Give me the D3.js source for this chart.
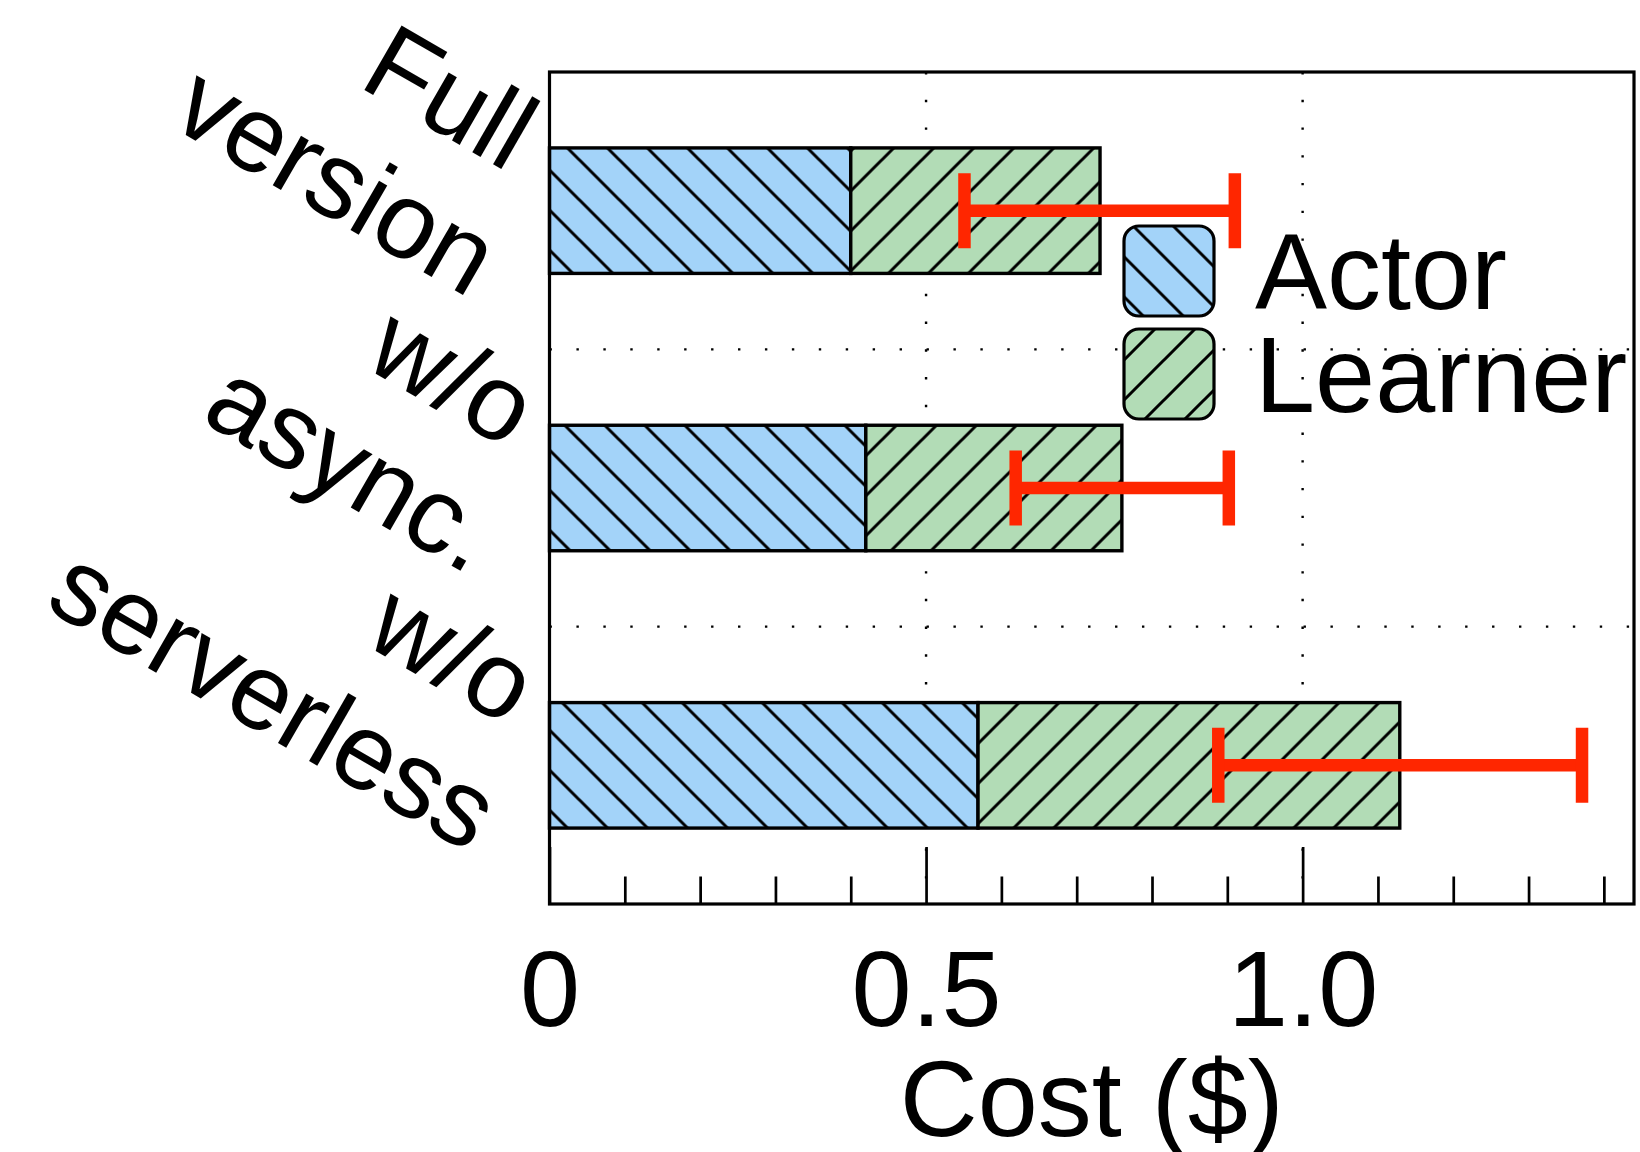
<!DOCTYPE html>
<html>
<head>
<meta charset="utf-8">
<script src="https://cdn.jsdelivr.net/npm/d3@7"></script>
<style>
  body { margin: 0; background: #fff; }
  svg { display: block; }
  text { font-family: "Liberation Sans", Arial, Helvetica, sans-serif; }
</style>
</head>
<body>
<svg id="chart" width="1640" height="1152"></svg>
<script>
// ---- data ----
const categories = [["Full", "version"], ["w/o", "async."], ["w/o", "serverless"]];
const actorCost = [0.400, 0.420, 0.569];
const learnerCost = [0.331, 0.340, 0.560];
const errLow = [0.551, 0.619, 0.888];
const errHigh = [0.910, 0.902, 1.371];
const seriesNames = ["Actor", "Learner"];
const majorTicks = [0, 0.5, 1.0];
const majorTickLabels = ["0", "0.5", "1.0"];
const minorTicks = [0.1, 0.2, 0.3, 0.4, 0.6, 0.7, 0.8, 0.9, 1.1, 1.2, 1.3, 1.4];
const xTitle = "Cost ($)";

// ---- layout ----
const W = 1640, H = 1152;
const plot = { left: 549.5, right: 1634, top: 72, bottom: 904 };
const FONT = 108;
const colors = { actor: "#a3d3f9", learner: "#b2dcb6", err: "#ff2600" };

const svg = d3.select("#chart");
svg.append("rect").attr("width", W).attr("height", H).attr("fill", "#fff");

const keys = categories.map(c => c.join(" "));
const x = d3.scaleLinear().domain([0, 1.44]).range([plot.left, plot.right]);
const y = d3.scaleBand().domain(keys).range([plot.top, plot.bottom])
  .paddingInner(0.5475).paddingOuter(0.5475 / 2);
const bw = y.bandwidth();

// ---- hatch patterns ----
const defs = svg.append("defs");
function hatch(id, fill, dir, shift) {
  const p = defs.append("pattern").attr("id", id)
    .attr("patternUnits", "userSpaceOnUse").attr("width", 40).attr("height", 40)
    .attr("patternTransform", `translate(${shift},0)`);
  p.append("rect").attr("width", 40).attr("height", 40).attr("fill", fill);
  const d = dir === "back"
    ? "M-10,-10L50,50M30,-10L50,10M-10,30L10,50"
    : "M-10,50L50,-10M-10,10L10,-10M30,50L50,30";
  p.append("path").attr("d", d).attr("stroke", "#000").attr("stroke-width", 3).attr("fill", "none");
}
hatch("hatchActor", colors.actor, "back", 19.5);
hatch("hatchLearner", colors.learner, "fwd", 1.7);
hatch("hatchActorKey", colors.actor, "back", 27.3);
hatch("hatchLearnerKey", colors.learner, "fwd", 4);

// ---- dotted grid ----
const grid = svg.append("g").attr("stroke", "#000").attr("stroke-width", 2.4);
grid.selectAll("line.v").data([0.5, 1.0]).join("line")
  .attr("x1", d => x(d)).attr("x2", d => x(d))
  .attr("y1", plot.top).attr("y2", plot.bottom)
  .attr("stroke-dasharray", "2.4 25.33");
grid.selectAll("line.h").data(keys.slice(1)).join("line")
  .attr("x1", plot.left).attr("x2", plot.right)
  .attr("y1", d => y(d) - y.paddingInner() * y.step() / 2)
  .attr("y2", d => y(d) - y.paddingInner() * y.step() / 2)
  .attr("stroke-dasharray", "2.4 24.53");

// ---- stacked bars ----
const bars = svg.append("g").attr("stroke", "#000").attr("stroke-width", 3.4);
bars.selectAll("rect.actor").data(keys).join("rect")
  .attr("x", x(0)).attr("y", k => y(k))
  .attr("width", (k, i) => x(actorCost[i]) - x(0)).attr("height", bw)
  .attr("fill", "url(#hatchActor)");
bars.selectAll("rect.learner").data(keys).join("rect")
  .attr("x", (k, i) => x(actorCost[i])).attr("y", k => y(k))
  .attr("width", (k, i) => x(actorCost[i] + learnerCost[i]) - x(actorCost[i])).attr("height", bw)
  .attr("fill", "url(#hatchLearner)");

// ---- error bars ----
const capH = 75;
const err = svg.append("g").attr("stroke", colors.err).attr("stroke-width", 12.5);
keys.forEach((k, i) => {
  const yc = y(k) + bw / 2;
  err.append("line").attr("x1", x(errLow[i])).attr("x2", x(errHigh[i])).attr("y1", yc).attr("y2", yc);
  [errLow[i], errHigh[i]].forEach(v => {
    err.append("line").attr("x1", x(v)).attr("x2", x(v)).attr("y1", yc - capH / 2).attr("y2", yc + capH / 2);
  });
});

// ---- x axis: inward ticks ----
const gMinor = svg.append("g").attr("transform", `translate(0,${plot.bottom})`)
  .call(d3.axisBottom(x).tickValues(minorTicks).tickSize(-27.5).tickFormat(""));
gMinor.select(".domain").remove();
gMinor.selectAll("line").attr("stroke", "#000").attr("stroke-width", 2.7);

const gMajor = svg.append("g").attr("transform", `translate(0,${plot.bottom})`)
  .call(d3.axisBottom(x).tickValues(majorTicks).tickSize(-57).tickPadding(45)
    .tickFormat((d, i) => majorTickLabels[i]));
gMajor.select(".domain").remove();
gMajor.attr("font-size", FONT).attr("font-family", null);
gMajor.selectAll("line").attr("stroke", "#000").attr("stroke-width", 2.7);
gMajor.selectAll("text").attr("fill", "#000");

svg.append("text")
  .attr("x", (plot.left + plot.right) / 2).attr("y", 1135.5)
  .attr("text-anchor", "middle").attr("font-size", FONT).attr("fill", "#000")
  .text(xTitle);

// ---- frame ----
svg.append("rect")
  .attr("x", plot.left).attr("y", plot.top)
  .attr("width", plot.right - plot.left).attr("height", plot.bottom - plot.top)
  .attr("fill", "none").attr("stroke", "#000").attr("stroke-width", 3.2);

// ---- rotated category labels ----
keys.forEach((k, i) => {
  const yc = y(k) + bw / 2;
  const g = svg.append("g")
    .attr("transform", `translate(${plot.left - 42},${yc - 38.2}) rotate(30)`)
    .attr("font-size", FONT).attr("fill", "#000").attr("text-anchor", "end");
  g.append("text").text(categories[i][0]);
  g.append("text").attr("x", 29.7).attr("y", 128.4).text(categories[i][1]);
});

// ---- legend ----
const legend = svg.append("g");
const keyFills = ["url(#hatchActorKey)", "url(#hatchLearnerKey)"];
const keyTops = [226, 329];
seriesNames.forEach((name, i) => {
  legend.append("rect")
    .attr("x", 1124).attr("y", keyTops[i]).attr("width", 90).attr("height", 90)
    .attr("rx", 15).attr("ry", 15)
    .attr("fill", keyFills[i]).attr("stroke", "#000").attr("stroke-width", 3.2);
  legend.append("text")
    .attr("x", 1255).attr("y", keyTops[i] + 82.5)
    .attr("font-size", FONT).attr("fill", "#000").text(name);
});
</script>
</body>
</html>
